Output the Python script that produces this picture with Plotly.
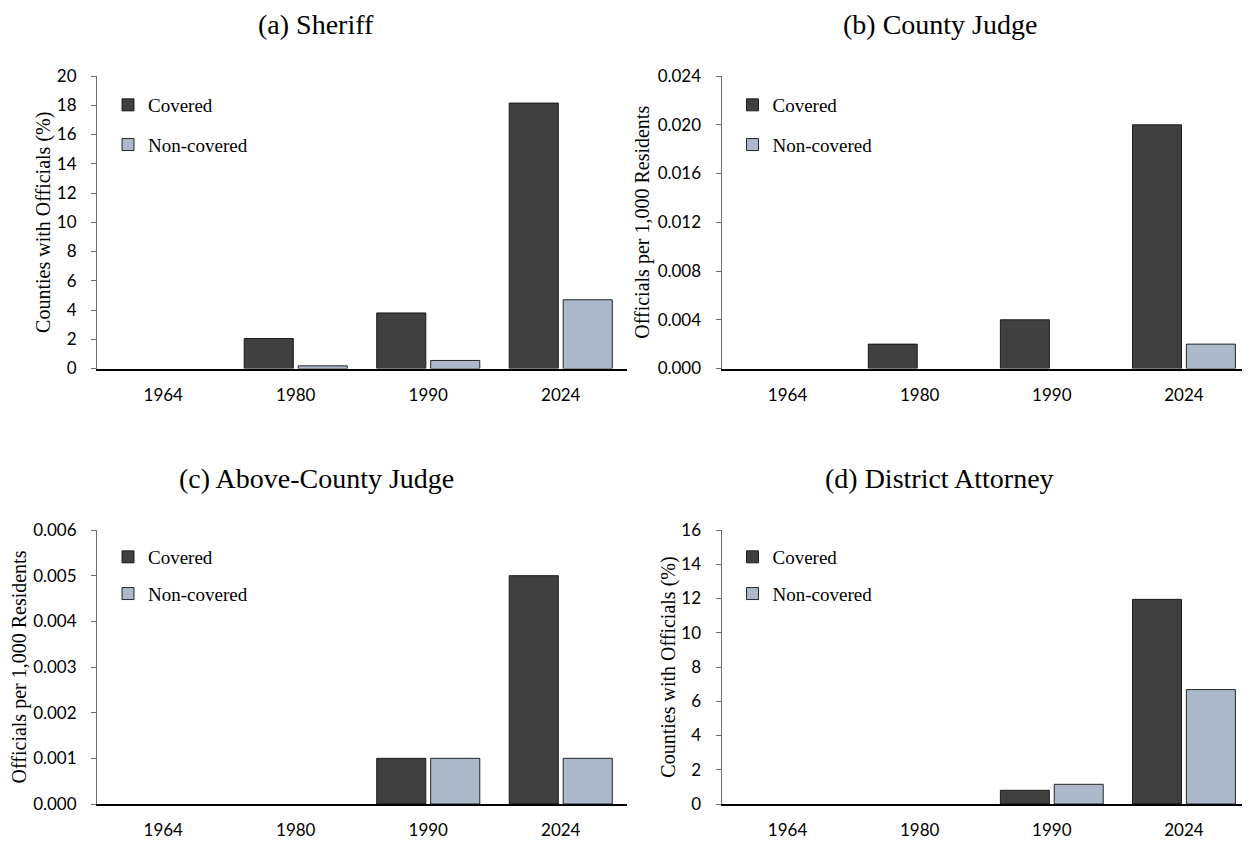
import plotly.graph_objects as go

years = ["1964", "1980", "1990", "2024"]
series_names = ["Covered", "Non-covered"]

sheriff_covered = [0.0, 2.05, 3.8, 18.15]
sheriff_noncovered = [0.0, 0.18, 0.55, 4.7]

county_judge_covered = [0.0, 0.002, 0.004, 0.020]
county_judge_noncovered = [0.0, 0.0, 0.0, 0.002]

above_judge_covered = [0.0, 0.0, 0.001, 0.005]
above_judge_noncovered = [0.0, 0.0, 0.001, 0.001]

da_covered = [0.0, 0.0, 0.8, 11.95]
da_noncovered = [0.0, 0.0, 1.15, 6.68]

panel_titles = ["(a) Sheriff", "(b) County Judge", "(c) Above-County Judge", "(d) District Attorney"]
y_titles = ["Counties with Officials (%)", "Officials per 1,000 Residents",
            "Officials per 1,000 Residents", "Counties with Officials (%)"]

COL_COV = "#404040"
COL_NON = "#adb9ca"
OFF = 8                      # page body margin in the browser
W, H = 1250 - OFF, 842 - OFF
SERIF = "Liberation Serif"
SANS = "Lato"

panels = [
    (sheriff_covered, sheriff_noncovered, [0, 20], 2, ",d"),
    (county_judge_covered, county_judge_noncovered, [0, 0.024], 0.004, ".3f"),
    (above_judge_covered, above_judge_noncovered, [0, 0.006], 0.001, ".3f"),
    (da_covered, da_noncovered, [0, 16], 2, ",d"),
]

# screen-pixel geometry of each plot area: (left, right, top, bottom)
geom = [
    (97, 627, 76, 368.5),
    (721.5, 1250, 76, 368.5),
    (97, 627, 530, 804),
    (721.5, 1250, 530, 804),
]
title_pos = [(316, 25), (940, 25), (316, 478), (939, 478)]
legend_off = [(11, 29, 12), (11, 29, 12), (11, 27, 9), (11, 27, 9)]
ytitle_standoff = [0, 2, 4, 0]


def px(v):
    return (v - OFF) / W


def py(v):
    return 1 - (v - OFF) / H


fig = go.Figure()
layout = dict(
    width=W, height=H,
    margin=dict(l=0, r=0, t=0, b=0, autoexpand=False),
    paper_bgcolor="white", plot_bgcolor="white",
    barmode="group", bargap=0.185, bargroupgap=0.09,
    showlegend=True,
    annotations=[],
)

for i, (cov, non, yr, dt, fmt) in enumerate(panels):
    k = i + 1
    xa = "x" if k == 1 else f"x{k}"
    ya = "y" if k == 1 else f"y{k}"
    lg = "legend" if k == 1 else f"legend{k}"
    for name, vals, col in ((series_names[0], cov, COL_COV), (series_names[1], non, COL_NON)):
        fig.add_trace(go.Bar(
            x=years, y=[v if v != 0 else None for v in vals],
            name=name, xaxis=xa, yaxis=ya, legend=lg,
            legendgroup=f"{name}{k}",
            marker=dict(color=col, line=dict(color="#111111", width=0.9)),
            hoverinfo="x+y+name",
        ))
    l, r, t, b = geom[i]
    xkey = "xaxis" if k == 1 else f"xaxis{k}"
    ykey = "yaxis" if k == 1 else f"yaxis{k}"
    layout[xkey] = dict(
        domain=[px(l), min(px(r), 1.0)], anchor=ya,
        type="category", range=[-0.5, 3.5],
        showline=True, linecolor="#000000", linewidth=1.5,
        ticks="", showgrid=False, zeroline=False,
        tickfont=dict(family=SANS, size=17, color="#000000"),
        ticklabelstandoff=10,
        automargin=False,
        fixedrange=True,
    )
    layout[ykey] = dict(
        domain=[py(b), py(t)], anchor=xa,
        range=yr, dtick=dt, tick0=0, tickformat=fmt,
        showline=True, linecolor="#6e6e6e", linewidth=1,
        ticks="outside", ticklen=5, tickcolor="#6e6e6e", tickwidth=1,
        showgrid=False, zeroline=False,
        tickfont=dict(family=SANS, size=17, color="#000000"),
        ticklabelstandoff=11,
        title=dict(text=y_titles[i], font=dict(family=SERIF, size=20, color="#000000"),
                   standoff=ytitle_standoff[i]),
        automargin=True,
        fixedrange=True,
    )
    dx, dy, gap = legend_off[i]
    layout[lg] = dict(
        x=px(l + dx), y=py(t + dy - 19), xanchor="left", yanchor="top",
        xref="paper", yref="paper",
        bgcolor="rgba(0,0,0,0)", borderwidth=0,
        font=dict(family=SERIF, size=19, color="#000000"),
        traceorder="grouped", tracegroupgap=gap,
        itemclick=False, itemdoubleclick=False,
    )
    tx, ty = title_pos[i]
    layout["annotations"].append(dict(
        text=panel_titles[i], x=px(tx), y=py(ty), xref="paper", yref="paper",
        xanchor="center", yanchor="middle", showarrow=False,
        font=dict(family=SERIF, size=28, color="#000000"),
    ))

fig.update_layout(**layout)
fig.write_html("out.html")
